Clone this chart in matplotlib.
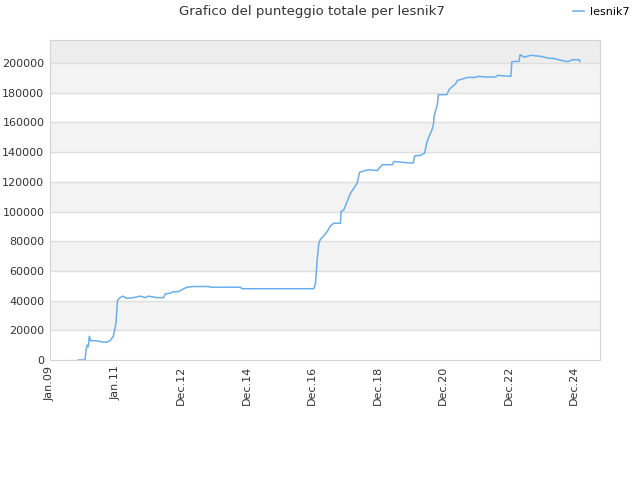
import matplotlib
matplotlib.use("Agg")
import matplotlib.pyplot as plt
import pandas as pd

# score history
dates = [
    "2009-11-13", "2010-01-26", "2010-02-07", "2010-02-21", "2010-03-04", "2010-03-15",
    "2010-03-30", "2010-05-18", "2010-07-12", "2010-08-18", "2010-09-25", "2010-11-01",
    "2010-12-08", "2011-01-07", "2011-01-22", "2011-02-21", "2011-03-23", "2011-05-07",
    "2011-07-19", "2011-10-02", "2011-11-27", "2012-01-03", "2012-04-06", "2012-06-19",
    "2012-07-08", "2012-09-02", "2012-10-09", "2012-12-04", "2013-01-29", "2013-03-08",
    "2013-05-20", "2013-11-03", "2013-11-22", "2014-10-23", "2014-11-11", "2017-01-20",
    "2017-02-08", "2017-02-26", "2017-03-16", "2017-04-04", "2017-05-11", "2017-06-17",
    "2017-07-24", "2017-08-30", "2017-11-12", "2017-11-20", "2017-12-20", "2018-01-26",
    "2018-03-05", "2018-04-11", "2018-05-18", "2018-06-13", "2018-07-31", "2018-09-25",
    "2018-12-28", "2019-02-22", "2019-06-14", "2019-07-02", "2019-10-22", "2020-02-03",
    "2020-02-18", "2020-04-25", "2020-06-08", "2020-07-01", "2020-07-27", "2020-08-22",
    "2020-09-14", "2020-09-21", "2020-10-10", "2020-10-28", "2020-11-08", "2021-02-10",
    "2021-03-07", "2021-04-14", "2021-05-21", "2021-06-08", "2021-08-03", "2021-09-28",
    "2021-12-31", "2022-01-18", "2022-04-21", "2022-08-11", "2022-08-29", "2023-01-25",
    "2023-02-05", "2023-04-27", "2023-05-08", "2023-06-22", "2023-09-05", "2023-12-25",
    "2024-03-09", "2024-05-22", "2024-08-05", "2024-10-19", "2024-12-14", "2025-02-26",
    "2025-03-06",
]
scores = [
    0, 0, 7000, 10000, 9000, 16000,
    13000, 13000, 12500, 12000, 12000, 13000,
    16000, 25000, 40000, 42000, 43000, 41500,
    42000, 43000, 42000, 43000, 42000, 42000,
    44500, 45000, 46000, 46000, 48000, 49000,
    49500, 49500, 49000, 49000, 48000, 48000,
    51700, 67400, 78650, 81350, 83600, 86500,
    90300, 92100, 92100, 100000, 101100, 106700,
    112400, 115700, 119100, 126300, 127400, 128100,
    127600, 131500, 131500, 133700, 133000, 132600,
    137500, 137800, 139300, 146100, 150600, 153900,
    158400, 164000, 168500, 171900, 178700, 178700,
    182000, 184300, 186100, 188300, 189200, 190300,
    190300, 191000, 190600, 190600, 191700, 191000,
    200900, 201100, 205600, 204000, 205200, 204500,
    203400, 203000, 201800, 200900, 202200, 202200,
    200900,
]

tick_dates = ["2009-01-01", "2011-01-01", "2012-12-31", "2014-12-31", "2016-12-30",
              "2018-12-30", "2020-12-29", "2022-12-29", "2024-12-28"]
tick_labels = ["Jan.09", "Jan.11", "Dec.12", "Dec.14", "Dec.16",
               "Dec.18", "Dec.20", "Dec.22", "Dec.24"]
y_ticks = list(range(0, 200001, 20000))

x = pd.to_datetime(dates)

fig = plt.figure(figsize=(6.4, 4.8), dpi=100)
ax = fig.add_axes([50 / 640, 120 / 480, 550 / 640, 320 / 480])

y_top = 215500
# alternating background bands
for i, lo in enumerate(y_ticks):
    hi = lo + 20000
    if lo == 200000:
        ax.axhspan(lo, y_top, color="#ededed", zorder=0, lw=0)
    elif i % 2 == 1:
        ax.axhspan(lo, hi, color="#f3f3f3", zorder=0, lw=0)
for yv in y_ticks[1:]:
    ax.axhline(yv, color="#dedede", lw=1, zorder=1)

ax.plot(x, scores, color="#6aaef0", lw=1.1, zorder=3, label="lesnik7")

ax.set_ylim(0, y_top)
ax.set_xlim(pd.Timestamp("2009-01-01"), pd.Timestamp("2025-10-15"))
ax.set_yticks(y_ticks)
ax.set_yticklabels([str(v) for v in y_ticks], fontsize=8, color="#333333")
ax.set_xticks(pd.to_datetime(tick_dates))
ax.set_xticklabels(tick_labels, rotation=90, fontsize=8, color="#333333")
ax.tick_params(length=0, pad=4)
for s in ax.spines.values():
    s.set_color("#d4d4d4")

fig.text(312 / 640, 1 - 12 / 480, "Grafico del punteggio totale per lesnik7",
         ha="center", va="center", fontsize=9.5, color="#333333")
fig.legend(loc="center right", bbox_to_anchor=(1.0, 1 - 12 / 480), frameon=False,
           fontsize=8, handlelength=1.0, handletextpad=0.6)

fig.savefig("out.png", dpi=100)
